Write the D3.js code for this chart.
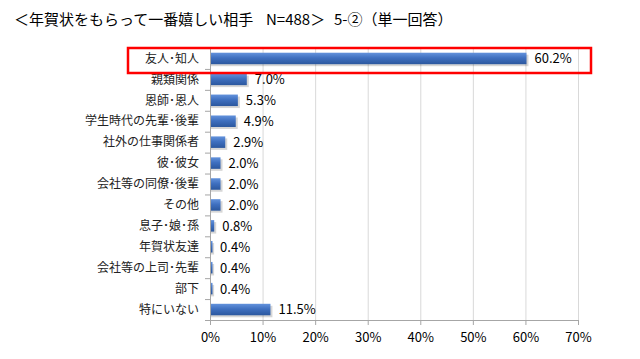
<!DOCTYPE html>
<html><head><meta charset="utf-8">
<script src="https://cdn.jsdelivr.net/npm/d3@7"></script>
<style>body{margin:0;background:#fff}svg{display:block}</style>
</head><body>
<script>
const categories = ["友人･知人","親類関係","恩師･恩人","学生時代の先輩･後輩","社外の仕事関係者","彼･彼女","会社等の同僚･後輩","その他","息子･娘･孫","年賀状友達","会社等の上司･先輩","部下","特にいない"];
const values = [60.2,7.0,5.3,4.9,2.9,2.0,2.0,2.0,0.8,0.4,0.4,0.4,11.5];
const xTicks = [0,10,20,30,40,50,60,70];
const titleParts = ["＜年賀状をもらって一番嬉しい相手","N=488＞","5-②（単一回答）"];

const W=640,H=359;
const svg=d3.select("body").append("svg").attr("width",W).attr("height",H);
const font="'Noto Sans CJK JP','Noto Sans',sans-serif";

const defs=svg.append("defs");
const g1=defs.append("linearGradient").attr("id","bg").attr("x1",0).attr("y1",0).attr("x2",0).attr("y2",1);
g1.append("stop").attr("offset","0%").attr("stop-color","#6392dc");
g1.append("stop").attr("offset","45%").attr("stop-color","#3f70c0");
g1.append("stop").attr("offset","100%").attr("stop-color","#2b579e");

const titleX=[14,266,334];
svg.append("text").attr("y",25).attr("font-family",font).attr("font-size",15).attr("fill","#000")
  .selectAll("tspan").data(titleParts).join("tspan").attr("x",(d,i)=>titleX[i]).text(d=>d);

const x=d3.scaleLinear().domain([0,70]).range([210,578]);
const y=d3.scaleBand().domain(categories).range([48,320]).paddingInner(0.45).paddingOuter(0.225);
const step=y.step();

// gridlines
svg.append("g").selectAll("line").data(xTicks.slice(1)).join("line")
  .attr("x1",d=>x(d)+0.5).attr("x2",d=>x(d)+0.5).attr("y1",48).attr("y2",320)
  .attr("stroke","#d9d9d9").attr("stroke-width",1);

// x axis
const xa=svg.append("g").attr("transform","translate(0,320)")
  .call(d3.axisBottom(x).tickValues(xTicks).tickFormat(d=>d+"%").tickSize(5).tickPadding(8));
xa.select(".domain").attr("stroke","#a6a6a6").attr("d","M210,0.5H578");
xa.selectAll(".tick line").attr("stroke","#a6a6a6");
xa.selectAll("text").attr("font-family",font).attr("font-size",13).attr("fill","#000");

// y axis
svg.append("line").attr("x1",210.5).attr("x2",210.5).attr("y1",48).attr("y2",320).attr("stroke","#a6a6a6");
svg.append("g").selectAll("line").data(d3.range(categories.length+1)).join("line")
  .attr("x1",205).attr("x2",210).attr("y1",i=>48+i*step+0.5).attr("y2",i=>48+i*step+0.5)
  .attr("stroke","#a6a6a6");

// category labels
svg.append("g").selectAll("text").data(categories).join("text")
  .attr("x",199).attr("y",d=>y(d)+y.bandwidth()/2).attr("dy","0.35em")
  .attr("text-anchor","end").attr("font-family",font).attr("font-size",12).attr("fill","#222").text(d=>d);

// shadows
svg.append("g").selectAll("rect").data(values).join("rect")
  .attr("x",x(0)+1).attr("y",(d,i)=>y(categories[i])+2)
  .attr("width",d=>Math.max(0,x(d)-x(0)+1)).attr("height",y.bandwidth())
  .attr("fill","#000").attr("opacity",0.16);
// bars
svg.append("g").selectAll("rect").data(values).join("rect")
  .attr("x",x(0)+1).attr("y",(d,i)=>y(categories[i]))
  .attr("width",d=>Math.max(1.5,x(d)-x(0)-1)).attr("height",y.bandwidth())
  .attr("fill","url(#bg)");

// value labels
svg.append("g").selectAll("text").data(values).join("text")
  .attr("x",d=>x(d)+8).attr("y",(d,i)=>y(categories[i])+y.bandwidth()/2).attr("dy","0.38em")
  .attr("font-family",font).attr("font-size",13).attr("fill","#000").text(d=>d.toFixed(1)+"%");

// red highlight box
svg.append("rect").attr("x",128).attr("y",48).attr("width",463).attr("height",25)
  .attr("fill","none").attr("stroke","#ff0000").attr("stroke-width",2.5);
</script>
</body></html>
